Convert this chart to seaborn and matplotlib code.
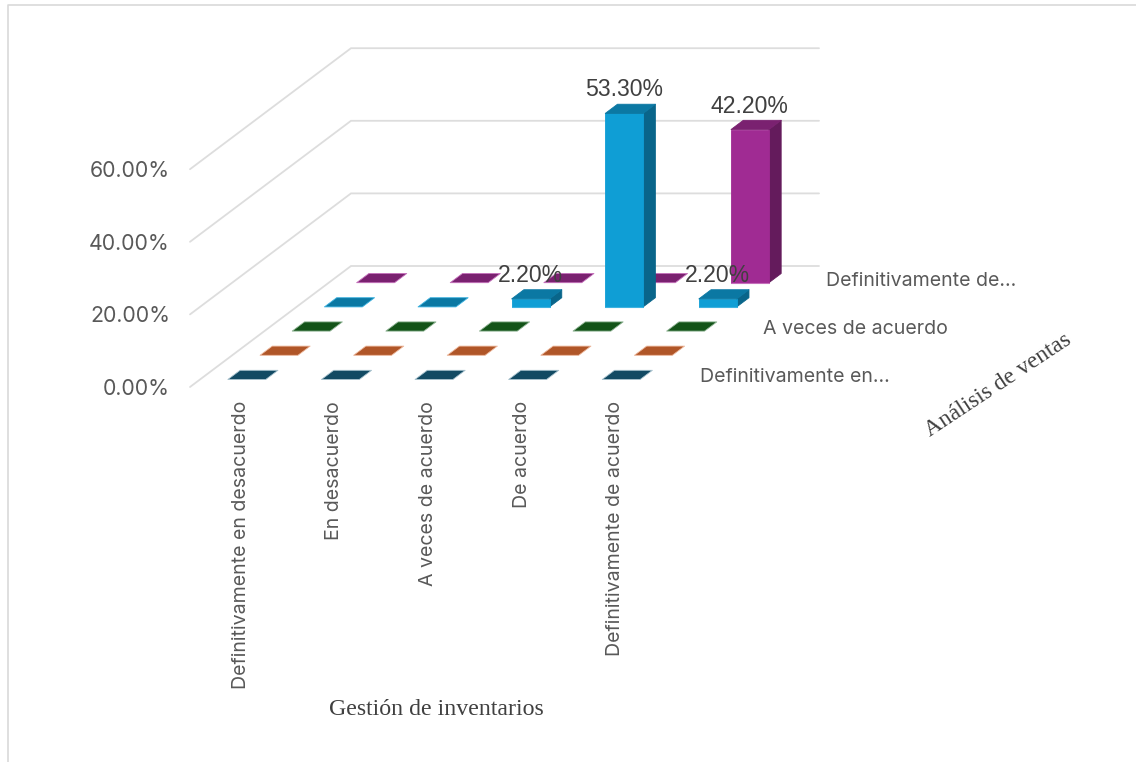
import matplotlib
matplotlib.use("Agg")
import matplotlib.pyplot as plt
from matplotlib.patches import Polygon
import seaborn as sns

categories = ["Definitivamente en desacuerdo", "En desacuerdo", "A veces de acuerdo",
              "De acuerdo", "Definitivamente de acuerdo"]
series_ticks = ["Definitivamente en...", "A veces de acuerdo", "Definitivamente de..."]
series_tick_rows = [0, 2, 4]
z_ticks = [0, 20, 40, 60]

serie_def_desacuerdo = [0, 0, 0, 0, 0]
serie_desacuerdo = [0, 0, 0, 0, 0]
serie_a_veces = [0, 0, 0, 0, 0]
serie_de_acuerdo = [0, 0, 2.2, 53.3, 2.2]
serie_def_acuerdo = [0, 0, 0, 0, 42.2]
all_series = [serie_def_desacuerdo, serie_desacuerdo, serie_a_veces, serie_de_acuerdo, serie_def_acuerdo]

front_colors = sns.color_palette(["#156082", "#E97132", "#196B24", "#0F9ED5", "#A02B93"])
top_colors = sns.color_palette(["#124A63", "#B05628", "#135318", "#0B78A3", "#7A2170"])
side_colors = sns.color_palette(["#0E3F55", "#94491F", "#0F4413", "#09658A", "#641B5C"])
edge_colors = sns.color_palette(["#A9C3CF", "#EDB79B", "#8FB494", "#3DB2E0", "#C56FBB"])

sns.set_theme(style="white")
sans = ["Inter", "DejaVu Sans"]
serif = ["Liberation Serif", "DejaVu Serif"]
plt.rcParams["font.family"] = sans

fig = plt.figure(figsize=(11.36, 7.62), dpi=100, facecolor="white")
ax = fig.add_axes([0, 0, 1, 1])
ax.set_xlim(0, 1136)
ax.set_ylim(762, 0)
ax.axis("off")

X0, Y0, DU, DVX, DVY, K = 190.0, 387.0, 93.6, 32.2, 24.2, 3.63
BAR_U, BAR_V = 0.405, 0.38


def proj(u, v, z=0.0):
    return X0 + DU * u + DVX * v, Y0 - DVY * v - K * z


def face(points, color, edge=None, z=3):
    ax.add_patch(Polygon([proj(*p) for p in points], closed=True, facecolor=color,
                         edgecolor=edge if edge is not None else color,
                         linewidth=0.6, joinstyle="round", zorder=z))


# outer chart frame
ax.plot([7.5, 7.5, 1136], [762, 4.5, 4.5], color="#D9D9D9", lw=1.2, zorder=1)

# walls and gridlines
n_cat, n_ser = len(categories), len(all_series)
for t in z_ticks:
    pts = [proj(0, 0, t), proj(0, n_ser, t), proj(n_cat, n_ser, t)]
    ax.plot(*zip(*pts), color="#DDDDDD", lw=1.3, solid_joinstyle="miter", zorder=2)
    x, y = proj(0, 0, t)
    ax.text(x - 20, y + 2, f"{t:.2f}%", ha="right", va="center", fontsize=15.3, color="#595959")

# bars, back to front
labels = []
for j in range(n_ser - 1, -1, -1):
    for i in range(n_cat):
        h = all_series[j][i]
        u0, u1 = i + 0.5 - BAR_U / 2, i + 0.5 + BAR_U / 2
        v0, v1 = j + 0.5 - BAR_V / 2, j + 0.5 + BAR_V / 2
        if h > 0:
            face([(u1, v0, 0), (u1, v1, 0), (u1, v1, h), (u1, v0, h)], side_colors[j])
            face([(u0, v0, 0), (u1, v0, 0), (u1, v0, h), (u0, v0, h)], front_colors[j])
            ax.plot(*zip(proj(u0, v0, 0), proj(u1, v0, 0)), color=edge_colors[j], lw=0.8, zorder=3)
        face([(u0, v0, h), (u1, v0, h), (u1, v1, h), (u0, v1, h)], top_colors[j],
             edge_colors[j] if h == 0 else None)
        if h > 0:
            x, y = proj((u0 + u1) / 2, v0, h)
            labels.append((x - 0.5, y - 23.5, f"{h:.2f}%"))

for x, y, s in labels:
    ax.text(x, y, s, ha="center", va="center", fontsize=16.6, color="#404040", zorder=6,
            family=["Liberation Sans", "DejaVu Sans"])

# category axis labels
for i, name in enumerate(categories):
    x, y = proj(i + 0.5, 0)
    ax.text(x + 4, 401, name, rotation=90, ha="center", va="top", fontsize=14.1, color="#595959")

# series axis labels
for j, name in zip(series_tick_rows, series_ticks):
    x, y = proj(n_cat, j + 0.5)
    ax.text(x + 25.5 - 0.7 * j, y + 2.5, name, ha="left", va="center", fontsize=14.1, color="#595959")

# axis titles
ax.text(436, 709.5, "Gestión de inventarios", ha="center", va="center", fontsize=17.2,
        color="#404040", family=serif)
ax.text(998, 385, "Análisis de ventas", ha="center", va="center", rotation=33.5,
        rotation_mode="anchor", fontsize=16.9, color="#404040", family=serif)

sns.despine(ax=ax, left=True, bottom=True)
fig.savefig("out.png", dpi=100, facecolor="white")
